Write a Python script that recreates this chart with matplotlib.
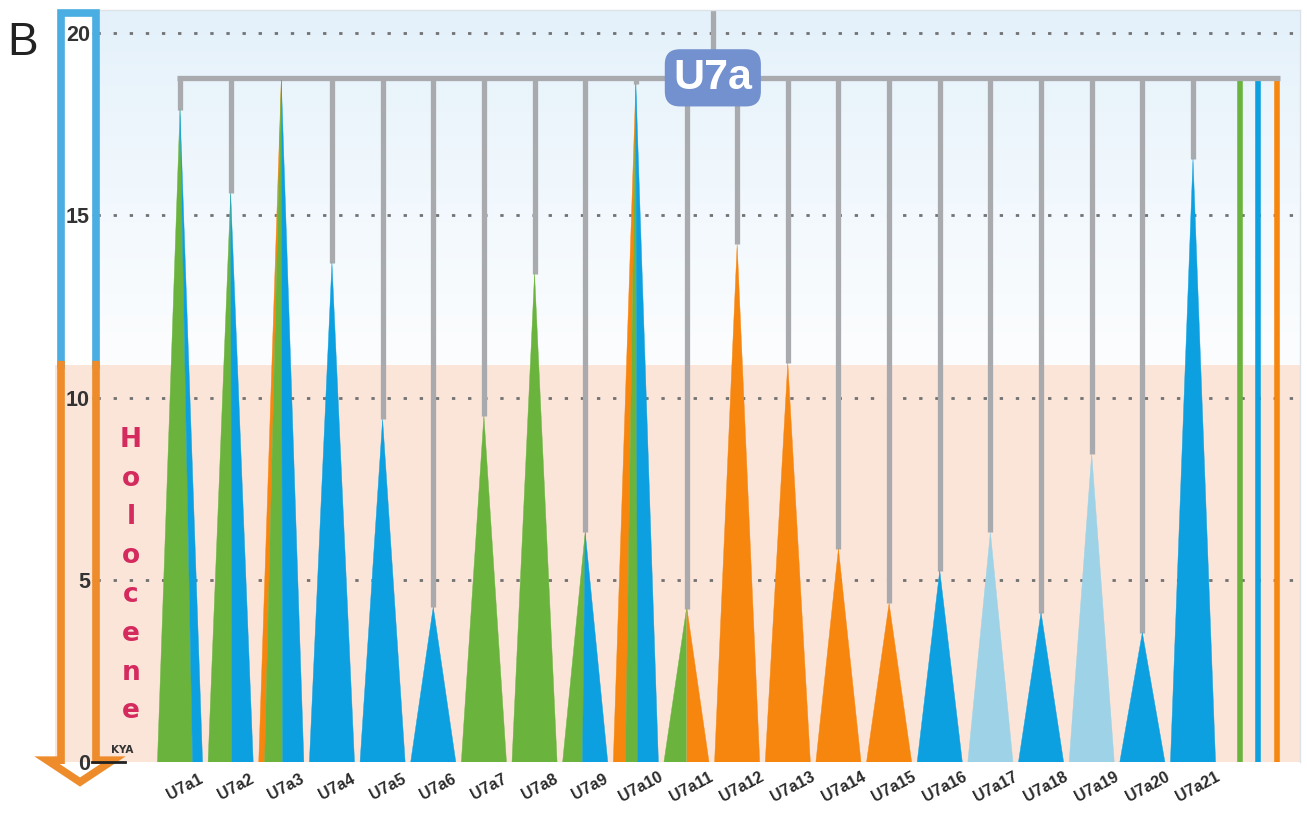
import numpy as np
import matplotlib
matplotlib.use("Agg")
import matplotlib.pyplot as plt
from matplotlib.patches import Polygon, Rectangle
from matplotlib.lines import Line2D
from matplotlib.transforms import blended_transform_factory
from matplotlib.colors import LinearSegmentedColormap

plt.rcParams['font.family'] = ['Liberation Sans', 'DejaVu Sans']

# ---------------- data ----------------
clades = [f"U7a{i}" for i in range(1, 22)]
# age (KYA) of each subclade = apex of its triangle
ages = [17.9, 15.6, 18.7, 13.7, 9.4, 4.25, 9.5, 13.4, 6.3, 18.6, 4.2,
        14.2, 10.95, 5.85, 4.35, 5.25, 6.3, 4.1, 8.45, 3.55, 16.55]
# share of each regional group within a subclade (triangle base split)
share_orange = [0, 0, 0.13, 0, 0, 0, 0, 0, 0, 0.27, 0.50,
                1, 1, 1, 1, 0, 0, 0, 0, 0, 0]
share_green = [0.78, 0.53, 0.40, 0, 0, 0, 1, 1, 0.44, 0.27, 0.50,
               0, 0, 0, 0, 0, 0, 0, 0, 0, 0]
share_blue = [0.22, 0.47, 0.47, 1, 1, 1, 0, 0, 0.56, 0.46, 0,
              0, 0, 0, 0, 1, 0, 1, 0, 1, 1]
share_lightblue = [0, 0, 0, 0, 0, 0, 0, 0, 0, 0, 0,
                   0, 0, 0, 0, 0, 1, 0, 1, 0, 0]
seg_order = ["ogbl"] * 10 + ["gobl"] + ["ogbl"] * 10
root_label = "U7a"
root_age = 18.77
holocene_start = 10.9
extra_groups = ["g", "b", "o"]
yticks = [0, 5, 10, 15, 20]
ytick_labels = ["0", "5", "10", "15", "20"]

colors = {"o": "#f7860f", "g": "#6ab43e", "b": "#0da0e0", "l": "#9dd2e7"}
shares = {"o": share_orange, "g": share_green, "b": share_blue, "l": share_lightblue}
gray = "#a9aaad"

# ---------------- figure / axes ----------------
W, H = 1307, 818
fig = plt.figure(figsize=(W / 100, H / 100), dpi=100)
L, R, T, B = 97, 1300, 10, 762
x0px, dxpx, dypx = 180, 50.65, 36.45
ax = fig.add_axes([L / W, (H - B) / H, (R - L) / W, (B - T) / H], zorder=1)
xlim = ((L - x0px) / dxpx, (R - x0px) / dxpx)
ylim = (0, (B - T) / dypx)
deco = fig.add_axes([0, 0, 1, 1], zorder=2)
deco.set_xlim(0, W)
deco.set_ylim(H, 0)
deco.axis("off")
deco.patch.set_alpha(0)
bt = blended_transform_factory(deco.transData, ax.transData)

# backgrounds
grad = np.linspace(0, 1, 256).reshape(-1, 1)
sky = LinearSegmentedColormap.from_list("sky", ["#fcfdfe", "#f1f8fd", "#e4f1fa"])
ax.imshow(grad, cmap=sky, extent=[xlim[0], xlim[1], holocene_start, ylim[1]],
          origin="lower", aspect="auto", zorder=0, interpolation="bilinear")
ax.axhspan(0, holocene_start, color="#fbe4d8", lw=0, zorder=0)
ax.add_patch(Rectangle((55, 0), 43, holocene_start, transform=bt,
                       fc="#fbe4d8", ec="none", zorder=0, clip_on=False))

# dotted grid
for v in yticks[1:]:
    ax.axhline(v, color="#727272", lw=2.0, dashes=(1.2, 4.6), zorder=0.5)

# tree: root bar, stem, branches
last = len(clades) - 1
extra_pos = [last + 0.93, last + 1.29, last + 1.66]
ax.plot([-0.05, extra_pos[-1] + 0.05], [root_age, root_age], color=gray, lw=3.8,
        solid_capstyle="butt", zorder=2.5)
stem_x = 10.52
ax.plot([stem_x, stem_x], [root_age, ylim[1]], color=gray, lw=3.8,
        solid_capstyle="butt", zorder=2.5)

half = 0.445
for i, age in enumerate(ages):
    ax.plot([i, i], [age, root_age], color=gray, lw=3.8, solid_capstyle="butt", zorder=2)
    left = i - half
    for key in seg_order[i]:
        f = shares[key][i]
        if f <= 0:
            continue
        right = left + 2 * half * f
        ax.add_patch(Polygon([[i, age], [left, 0], [right, 0]], closed=True,
                             fc=colors[key], ec=colors[key], lw=0.3, zorder=3))
        left = right

for pos, key in zip(extra_pos, extra_groups):
    ax.plot([pos, pos], [0, root_age], color=colors[key], lw=4.0,
            solid_capstyle="butt", zorder=2)

ax.text(stem_x, root_age, root_label, ha="center", va="center", fontsize=31,
        fontweight="bold", color="white", zorder=6,
        bbox=dict(boxstyle="round,pad=0.2,rounding_size=0.35", fc="#7390cf", ec="none"))

ax.set_xlim(*xlim)
ax.set_ylim(*ylim)
ax.set_xticks([])
ax.set_yticks(yticks)
ax.set_yticklabels(ytick_labels, fontweight="bold")
ax.tick_params(axis="y", length=3.6, width=1, color="#555555", pad=1.5,
               labelsize=15.5, labelcolor="#333333")
for s in ["left", "bottom"]:
    ax.spines[s].set_visible(False)
for s in ["top", "right"]:
    ax.spines[s].set_color("#dde2e6")
    ax.spines[s].set_linewidth(1)

# x labels
lbl_tr = blended_transform_factory(ax.transData, deco.transData)
for i, name in enumerate(clades):
    deco.text(i + 0.1, 787, name, transform=lbl_tr, rotation=28, ha="center",
              va="center", fontsize=11.5, fontweight="bold", color="#2a2a2a")

# left decorations: epoch box / arrow
deco.add_line(Line2D([61, 61, 96, 96], [holocene_start, ylim[1] - 0.07, ylim[1] - 0.07, holocene_start],
                     transform=bt, color="#4aaee2", lw=5.5, solid_joinstyle="miter", zorder=2))
deco.add_line(Line2D([61, 61, 47, 80, 113, 96, 96],
                     [holocene_start, 0.05, 0.05, -0.55, 0.05, 0.05, holocene_start],
                     transform=bt, color="#ee8c2c", lw=5.5, solid_joinstyle="miter", zorder=2))
deco.add_line(Line2D([92, 125], [0, 0], transform=bt, color="#222222", lw=2, zorder=3))
deco.text(122, 753, "KYA", ha="center", va="baseline", fontsize=7.5,
          fontweight="bold", color="#333333", family="DejaVu Sans")

for k, ch in enumerate("Holocene"):
    deco.text(131, 447 + 38.75 * k, ch, ha="center", va="baseline", fontsize=19,
              fontweight="bold", color="#d42a5e", family="DejaVu Sans")

deco.text(7, 55, "B", ha="left", va="baseline", fontsize=33, color="#222222")

fig.savefig("out.png", dpi=100)
